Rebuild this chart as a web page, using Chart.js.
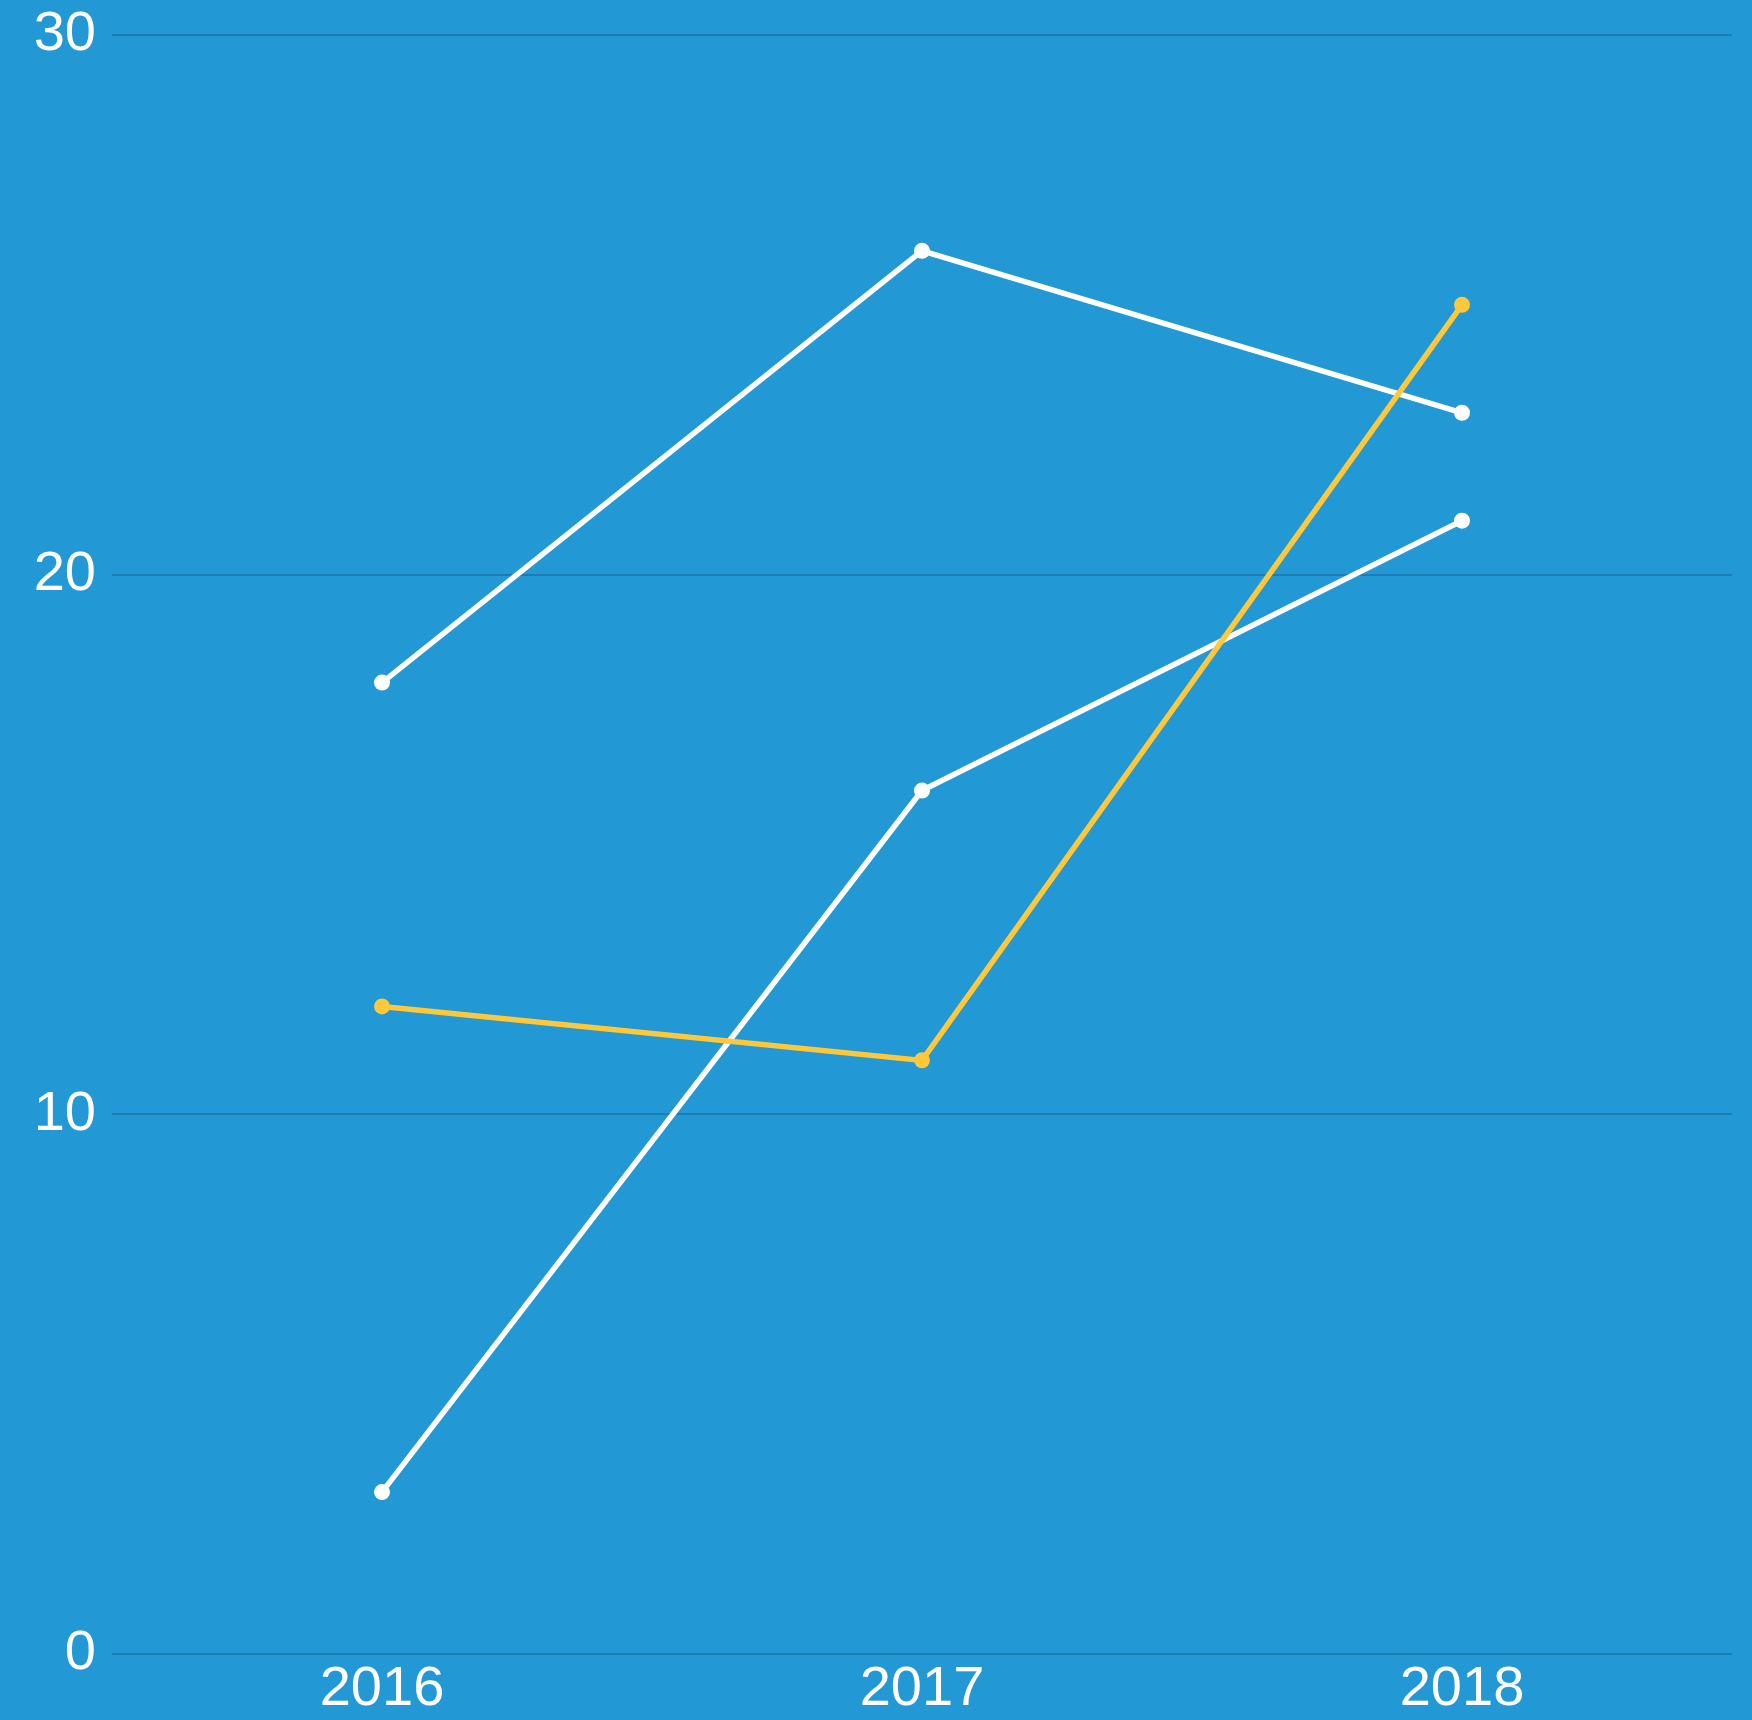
<!DOCTYPE html>
<html>
<head>
<meta charset="utf-8">
<script src="https://cdn.jsdelivr.net/npm/chart.js@4"></script>
<style>
    html, body { margin: 0; padding: 0; background: #2298d4; }
    #wrap { width: 1752px; height: 1720px; }
</style>
</head>
<body>
<div id="wrap"><canvas id="lineChart" width="1752" height="1720"></canvas></div>
<script>
// chart data
const years = ['2016', '2017', '2018'];
const seriesA = [18, 26, 23];
const seriesB = [3, 16, 21];
const seriesC = [12, 11, 25];
const yTicks = [0, 10, 20, 30];

const white = '#ffffff';
const yellow = '#ffc83a';

function lineSet(data, color) {
    return {
        data: data,
        borderColor: color,
        backgroundColor: color,
        borderWidth: 5.5,
        pointRadius: 8,
        pointBorderWidth: 0,
        pointHoverRadius: 8,
        tension: 0,
        fill: false
    };
}

const ctx = document.getElementById('lineChart').getContext('2d');
new Chart(ctx, {
    type: 'line',
    data: {
        labels: years,
        datasets: [
            lineSet(seriesC, yellow),
            lineSet(seriesA, white),
            lineSet(seriesB, white)
        ]
    },
    options: {
        responsive: false,
        animation: false,
        layout: { padding: { top: 35, right: 20, left: 0, bottom: 0 } },
        plugins: { legend: { display: false }, tooltip: { enabled: false } },
        scales: {
            x: {
                offset: true,
                grid: { display: false, drawTicks: false },
                border: { display: false },
                ticks: {
                    color: white,
                    padding: 2,
                    font: { family: '"Liberation Sans", Arial, sans-serif', size: 56 }
                },
                afterFit: scale => { scale.height = 66; }
            },
            y: {
                min: 0,
                max: 30,
                afterBuildTicks: scale => { scale.ticks = yTicks.map(v => ({ value: v })); },
                grid: { color: '#1e7cae', lineWidth: 2, drawTicks: false },
                border: { display: false },
                ticks: {
                    color: white,
                    padding: 16,
                    font: { family: '"Liberation Sans", Arial, sans-serif', size: 56 }
                },
                afterFit: scale => {
                    scale.width = 112;
                    scale.paddingTop = 0;
                    scale.paddingBottom = 0;
                }
            }
        }
    }
});
</script>
</body>
</html>
